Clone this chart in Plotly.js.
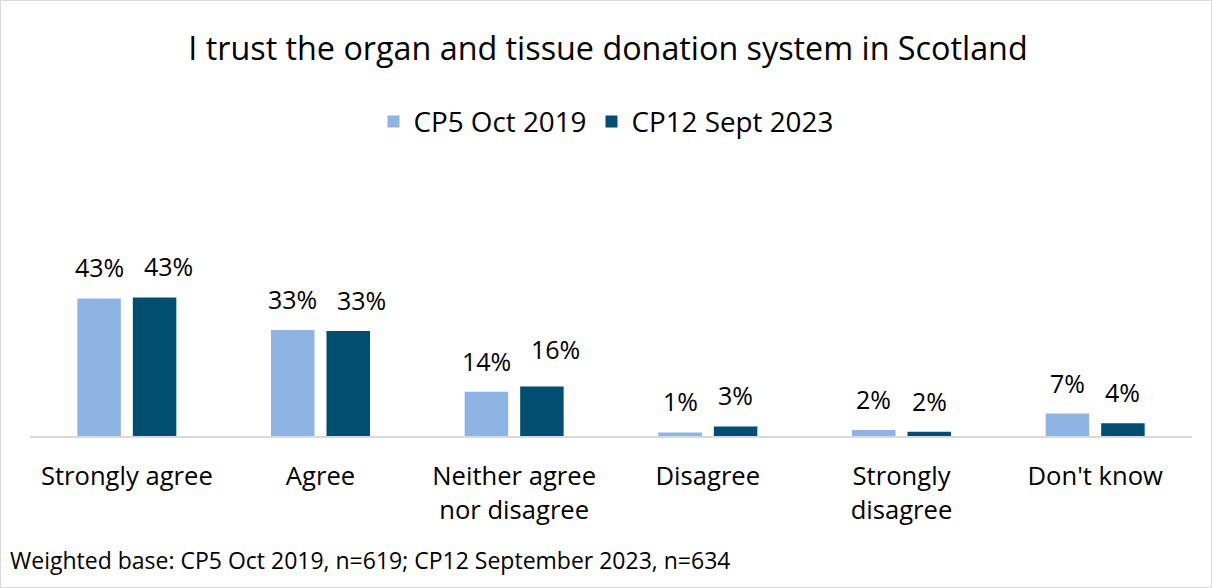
<!DOCTYPE html>
<html>
<head>
<meta charset="utf-8">
<script src="https://cdn.plot.ly/plotly-3.0.1.min.js"></script>
<style>
  html, body { margin: 0; padding: 0; background: #fff; }
  #chart { width: 1210px; height: 586px; border: 1px solid #d9d9d9; }
</style>
</head>
<body>
<div id="chart"></div>
<script>
const categories = ["Strongly agree", "Agree", "Neither agree<br>nor disagree", "Disagree", "Strongly<br>disagree", "Don't know"];
const seriesNames = ["CP5 Oct 2019", "CP12 Sept 2023"];
const cp5Values = [43.0, 33.1, 13.8, 1.1, 1.9, 7.0];
const cp12Values = [43.3, 32.8, 15.5, 3.0, 1.3, 4.0];
const cp5Labels = ["43%", "33%", "14%", "1%", "2%", "7%"];
const cp12Labels = ["43%", "33%", "16%", "3%", "2%", "4%"];
const colors = ["#8db4e2", "#004f71"];

const FONT = "'Open Sans', sans-serif";

// label placement tweaks (layout only): CP12 two-digit labels sit slightly right in the original
const cp12LabelNudgeX = [13.5, 13.5, 13.5, 0, 0, 0];
const cp12LabelNudgeY = [0, 0, 6, 0, 0, 0];

const traces = [
  { type: "bar", name: seriesNames[0], x: categories, y: cp5Values, marker: { color: colors[0] }, hoverinfo: "skip" },
  { type: "bar", name: seriesNames[1], x: categories, y: cp12Values, marker: { color: colors[1] }, hoverinfo: "skip" }
];

const annotations = [];
cp5Values.forEach((v, i) => {
  annotations.push({
    x: categories[i], y: v, xref: "x", yref: "y",
    text: cp5Labels[i], showarrow: false,
    xanchor: "center", yanchor: "bottom",
    xshift: -27.75, yshift: 12,
    font: { family: FONT, size: 25, color: "#000" }
  });
});
cp12Values.forEach((v, i) => {
  annotations.push({
    x: categories[i], y: v, xref: "x", yref: "y",
    text: cp12Labels[i], showarrow: false,
    xanchor: "center", yanchor: "bottom",
    xshift: 27.75 + cp12LabelNudgeX[i], yshift: 12 + cp12LabelNudgeY[i],
    font: { family: FONT, size: 25, color: "#000" }
  });
});
annotations.push({
  xref: "paper", yref: "paper", x: -22 / 1162, y: -(560 - 436) / 160,
  xanchor: "left", yanchor: "middle", showarrow: false,
  text: "Weighted base: CP5 Oct 2019, n=619; CP12 September 2023, n=634",
  font: { family: FONT, size: 23, color: "#000" }
});

const layout = {
  width: 1210, height: 586,
  margin: { l: 29, r: 19, t: 275, b: 151 },
  paper_bgcolor: "#fff", plot_bgcolor: "#fff",
  barmode: "group", bargap: 0.427, bargroupgap: 0.216,
  title: { text: "I trust the organ and tissue donation system in Scotland", x: 0.5 - 3 / 1162, xanchor: "center", xref: "paper",
           y: 1 - 48 / 586, yref: "container", yanchor: "middle",
           font: { family: FONT, size: 32.3, color: "#000" } },
  showlegend: true,
  legend: { orientation: "h", x: 0.5 - 5 / 1162, xanchor: "center", y: (436 - 122) / 160, yanchor: "middle",
            font: { family: FONT, size: 27.8, color: "#000" }, traceorder: "normal", itemclick: false },
  xaxis: { type: "category", showline: true, linecolor: "#d9d9d9", linewidth: 1.5, ticks: "", showgrid: false,
           ticklabelstandoff: 17, tickfont: { family: FONT, size: 25.6, color: "#000" }, fixedrange: true },
  yaxis: { range: [0, 50], visible: false, showgrid: false, zeroline: false, fixedrange: true },
  annotations: annotations
};

Plotly.newPlot("chart", traces, layout, { displayModeBar: false, staticPlot: true });
</script>
</body>
</html>
